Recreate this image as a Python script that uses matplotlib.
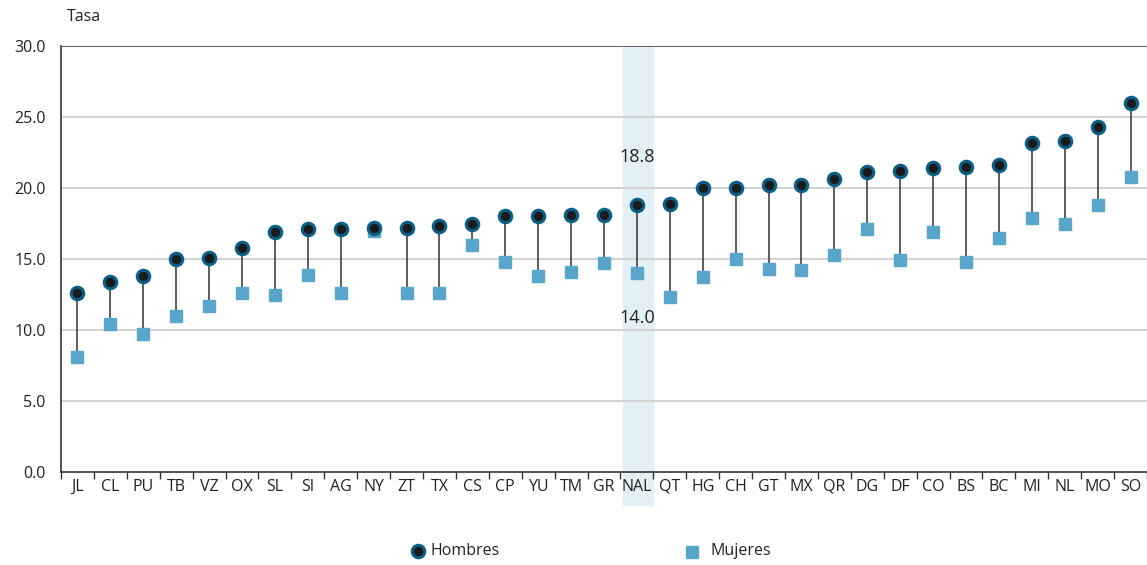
import numpy as np
import matplotlib.pyplot as plt
from matplotlib.ticker import FixedLocator, NullFormatter

plt.rcParams['font.family'] = ['Open Sans', 'DejaVu Sans']

estados = ['JL', 'CL', 'PU', 'TB', 'VZ', 'OX', 'SL', 'SI', 'AG', 'NY', 'ZT', 'TX',
           'CS', 'CP', 'YU', 'TM', 'GR', 'NAL', 'QT', 'HG', 'CH', 'GT', 'MX', 'QR',
           'DG', 'DF', 'CO', 'BS', 'BC', 'MI', 'NL', 'MO', 'SO']
hombres = [12.6, 13.4, 13.8, 15.0, 15.1, 15.8, 16.9, 17.1, 17.1, 17.2, 17.2, 17.3,
           17.5, 18.0, 18.0, 18.1, 18.1, 18.8, 18.9, 20.0, 20.0, 20.2, 20.2, 20.6,
           21.1, 21.2, 21.4, 21.5, 21.6, 23.2, 23.3, 24.3, 26.0]
mujeres = [8.1, 10.4, 9.7, 11.0, 11.7, 12.6, 12.5, 13.9, 12.6, 17.0, 12.6, 12.6,
           16.0, 14.8, 13.8, 14.1, 14.7, 14.0, 12.3, 13.7, 15.0, 14.3, 14.2, 15.3,
           17.1, 14.9, 16.9, 14.8, 16.5, 17.9, 17.5, 18.8, 20.8]

x = np.arange(len(estados))
nal = estados.index('NAL')

fig = plt.figure(figsize=(11.47, 5.65), dpi=100)
ax = fig.add_axes([61 / 1147, 1 - 472 / 565, 1 - 61 / 1147, (472 - 46) / 565])

# national band
ax.axvspan(nal - 0.43, nal + 0.5, ymin=-0.078, ymax=1.0, color='#e3f0f6',
           zorder=0, clip_on=False)

for yv in [5, 10, 15, 20, 25]:
    ax.axhline(yv, color='#d3d3d3', lw=1.5, zorder=1)
ax.axhline(30, color='#444444', lw=1.2, zorder=1)

ax.vlines(x, mujeres, hombres, color='#333333', lw=1.1, zorder=2)
ax.plot(x, mujeres, 's', ms=8.5, color='#58a6c9', mec='#58a6c9', zorder=3,
        label='Mujeres')
ax.plot(x, hombres, 'o', ms=9, mfc='#1a1a1a', mec='#0b5f86', mew=2.2, zorder=4,
        label='Hombres')

ax.text(nal, 22.2, f'{hombres[nal]:.1f}', ha='center', va='center', fontsize=13,
        color='#222222')
ax.text(nal, 10.85, f'{mujeres[nal]:.1f}', ha='center', va='center', fontsize=13,
        color='#222222')

ax.set_xlim(-0.5, len(estados) - 0.5)
ax.set_ylim(0, 30)
ax.set_yticks([0, 5, 10, 15, 20, 25, 30])
ax.set_yticklabels([f'{v:.1f}' for v in [0, 5, 10, 15, 20, 25, 30]], fontsize=11.5,
                   color='#222222')
ax.tick_params(axis='y', length=0, pad=11)

ax.set_xticks(x)
ax.set_xticklabels(estados, fontsize=11.5, color='#222222')
ax.tick_params(axis='x', which='major', length=0, pad=5)
ax.xaxis.set_minor_locator(FixedLocator(np.arange(-0.5, len(estados), 1.0)))
ax.xaxis.set_minor_formatter(NullFormatter())
ax.tick_params(axis='x', which='minor', length=5, width=1, color='#333333')

for s in ['top', 'right']:
    ax.spines[s].set_visible(False)
for s in ['left', 'bottom']:
    ax.spines[s].set_color('#333333')
    ax.spines[s].set_linewidth(1.2)

fig.text(67 / 1147, 1 - 17 / 565, 'Tasa', fontsize=11.5, va='center', color='#222222')

# legend
fig.lines.append(plt.Line2D([418 / 1147], [1 - 551 / 565], marker='o', ms=9,
                            mfc='#1a1a1a', mec='#0b5f86', mew=2.2,
                            transform=fig.transFigure))
fig.text(431 / 1147, 1 - 551 / 565, 'Hombres', fontsize=11.5, va='center',
         color='#222222')
fig.lines.append(plt.Line2D([692 / 1147], [1 - 552 / 565], marker='s', ms=9,
                            color='#58a6c9', transform=fig.transFigure))
fig.text(710 / 1147, 1 - 551 / 565, 'Mujeres', fontsize=11.5, va='center',
         color='#222222')

fig.savefig('out.png', dpi=100)
